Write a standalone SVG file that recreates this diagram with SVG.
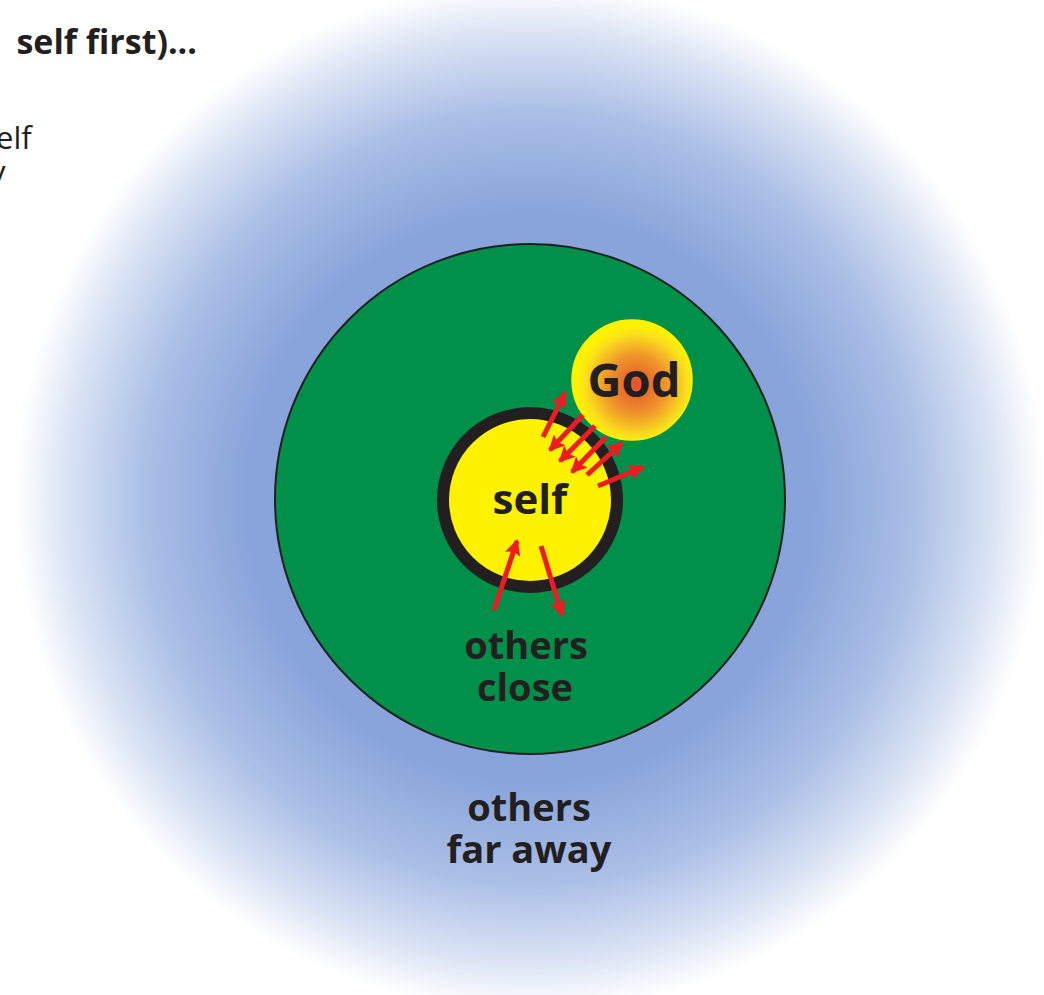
<svg xmlns="http://www.w3.org/2000/svg" width="1044" height="995" viewBox="0 0 1044 995">
<defs>
<radialGradient id="blue" cx="530" cy="497" r="515" gradientUnits="userSpaceOnUse">
<stop offset="0" stop-color="#84a1d9"/>
<stop offset="0.55" stop-color="#88a4da"/>
<stop offset="0.75" stop-color="#abbfe6"/>
<stop offset="0.9" stop-color="#dae3f4"/>
<stop offset="1" stop-color="#ffffff"/>
</radialGradient>
<radialGradient id="godg" cx="636" cy="385" r="60" gradientUnits="userSpaceOnUse">
<stop offset="0" stop-color="#e4502b"/>
<stop offset="0.5" stop-color="#ef962a"/>
<stop offset="0.85" stop-color="#fbe01c"/>
<stop offset="1" stop-color="#fff200"/>
</radialGradient>
<marker id="ah" markerUnits="userSpaceOnUse" markerWidth="16" markerHeight="16" viewBox="0 0 16 16" refX="14" refY="8" orient="auto">
<path d="M0,0 L16,8 L0,16 L3,8 Z" fill="#ed1c24"/>
</marker>
<style>
.t{font-family:"Open Sans","DejaVu Sans",sans-serif;font-weight:bold;fill:#231f20;text-anchor:middle}
.tl{font-family:"Open Sans","DejaVu Sans",sans-serif;fill:#231f20}
.ar{stroke:#ed1c24;stroke-width:5;fill:none;marker-end:url(#ah)}
</style>
</defs>
<rect width="1044" height="995" fill="#ffffff"/>
<circle id="far" cx="530" cy="497" r="515" fill="url(#blue)"/>
<g id="caption">
<text class="tl" x="197" y="54" font-size="34" font-weight="bold" text-anchor="end">self first)...</text>
<text class="tl" x="-4" y="149" font-size="31">elf</text>
<text class="tl" x="-10" y="183" font-size="31">y</text>
</g>
<g id="others-close">
<circle cx="530" cy="499" r="255" fill="#00904a" stroke="#231f20" stroke-width="2"/>
</g>
<g id="self">
<circle cx="530" cy="500" r="87" fill="#fff200" stroke="#231f20" stroke-width="12"/>
<text class="t" x="530" y="514" font-size="42">self</text>
</g>
<g id="god">
<circle cx="632" cy="380" r="60" fill="url(#godg)" stroke="#fff200" stroke-width="1.5"/>
<text class="t" x="634" y="397" font-size="47">God</text>
</g>
<g id="connectors">
<line class="ar" x1="543" y1="437" x2="565" y2="393"/>
<line class="ar" x1="583" y1="415" x2="550" y2="450"/>
<line class="ar" x1="595" y1="426" x2="560" y2="461"/>
<line class="ar" x1="606" y1="437" x2="572" y2="472"/>
<line class="ar" x1="587" y1="475" x2="622" y2="443"/>
<line class="ar" x1="598" y1="486" x2="643" y2="467"/>
<line class="ar" x1="494" y1="610" x2="517" y2="541"/>
<line class="ar" x1="541" y1="546" x2="562" y2="615"/>
</g>
<g id="labels">
<text class="t" x="526" y="659" font-size="38">others</text>
<text class="t" x="525" y="701" font-size="38">close</text>
<text class="t" x="529" y="821" font-size="38">others</text>
<text class="t" x="529" y="863" font-size="38">far away</text>
</g>
</svg>
